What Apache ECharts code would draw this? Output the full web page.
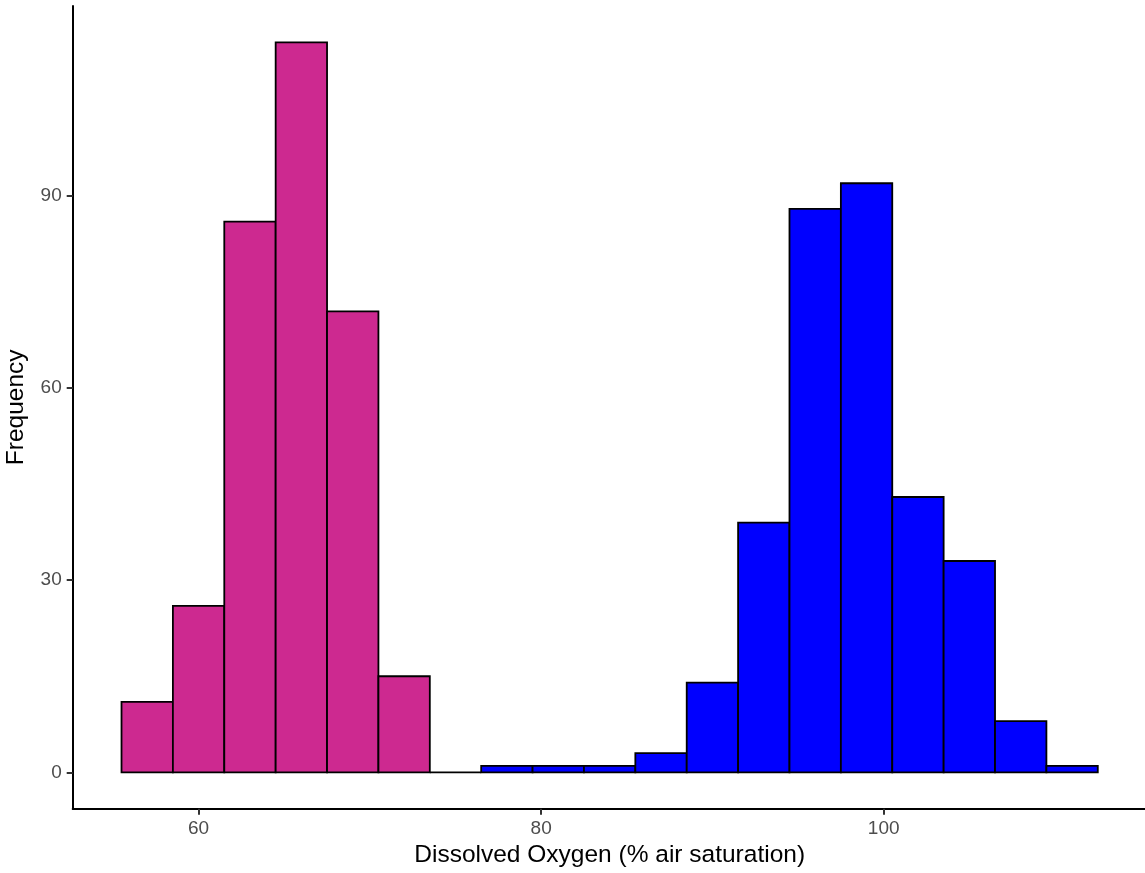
<!DOCTYPE html>
<html>
<head>
<meta charset="utf-8">
<title>Dissolved Oxygen histogram</title>
<script src="https://cdn.jsdelivr.net/npm/echarts@6/dist/echarts.min.js"></script>
<style>
  html, body { margin: 0; padding: 0; background: #ffffff; }
  #chart { width: 1145px; height: 873px; }
</style>
</head>
<body>
<div id="chart"></div>
<script>
// Histogram bins of dissolved oxygen (% air saturation), width 3
const binEdges = [55.5, 58.5, 61.5, 64.5, 67.5, 70.5, 73.5, 76.5, 79.5, 82.5,
                  85.5, 88.5, 91.5, 94.5, 97.5, 100.5, 103.5, 106.5, 109.5, 112.5];
// Frequency in each bin
const counts = [11, 26, 86, 114, 72, 15, 0, 1, 1, 1, 3, 14, 39, 88, 92, 43, 33, 8, 1];
// Group each bin belongs to
const binGroup = ['low', 'low', 'low', 'low', 'low', 'low', 'low',
                  'high', 'high', 'high', 'high', 'high', 'high', 'high',
                  'high', 'high', 'high', 'high', 'high'];
// Axis tick labels
const xTicks = [60, 80, 100];
const yTicks = [0, 30, 60, 90];

const groupFill = { low: '#CD2990', high: '#0000FF' };

const binData = counts.map((c, i) => [binEdges[i], binEdges[i + 1], c, binGroup[i]]);

// ggplot-style 5% expansion of the data range
const xLo = binEdges[0], xHi = binEdges[binEdges.length - 1];
const xPad = (xHi - xLo) * 0.05;
const yHi = Math.max.apply(null, counts);
const yPad = yHi * 0.05;

const chart = echarts.init(document.getElementById('chart'), null, { renderer: 'canvas' });

const labelFont = '"Liberation Sans", Arial, Helvetica, sans-serif';

chart.setOption({
  animation: false,
  backgroundColor: '#ffffff',
  grid: {
    left: 72.7, top: 5.9, width: 1073.9, height: 802.9,
    containLabel: false,
    outerBoundsMode: 'none'
  },
  xAxis: {
    type: 'value',
    min: xLo - xPad,
    max: xHi + xPad,
    name: 'Dissolved Oxygen (% air saturation)',
    nameLocation: 'middle',
    nameGap: 33,
    nameTextStyle: { color: '#000000', fontSize: 24.5, fontFamily: labelFont },
    axisLine: { show: true, onZero: false, lineStyle: { color: '#000000', width: 2 } },
    axisTick: { show: true, length: 6, customValues: xTicks, lineStyle: { color: '#333333', width: 2 } },
    axisLabel: { customValues: xTicks, margin: 10, color: '#4D4D4D', fontSize: 19, fontFamily: labelFont },
    splitLine: { show: false }
  },
  yAxis: {
    type: 'value',
    min: -yPad,
    max: yHi + yPad,
    name: 'Frequency',
    nameLocation: 'middle',
    nameGap: 44,
    nameTextStyle: { color: '#000000', fontSize: 24.5, fontFamily: labelFont },
    axisLine: { show: true, onZero: false, lineStyle: { color: '#000000', width: 2 } },
    axisTick: { show: true, length: 6, customValues: yTicks, lineStyle: { color: '#333333', width: 2 } },
    axisLabel: { customValues: yTicks, margin: 11, color: '#4D4D4D', fontSize: 19, fontFamily: labelFont },
    splitLine: { show: false }
  },
  series: [{
    type: 'custom',
    data: binData,
    encode: { x: [0, 1], y: 2 },
    clip: false,
    renderItem: function (params, api) {
      const start = api.value(0);
      const end = api.value(1);
      const n = api.value(2);
      const grp = binData[params.dataIndex][3];
      const topLeft = api.coord([start, n]);
      const bottomRight = api.coord([end, 0]);
      return {
        type: 'rect',
        shape: {
          x: topLeft[0],
          y: topLeft[1],
          width: bottomRight[0] - topLeft[0],
          height: bottomRight[1] - topLeft[1]
        },
        style: { fill: groupFill[grp], stroke: '#000000', lineWidth: 1.8 }
      };
    }
  }]
});
</script>
</body>
</html>
